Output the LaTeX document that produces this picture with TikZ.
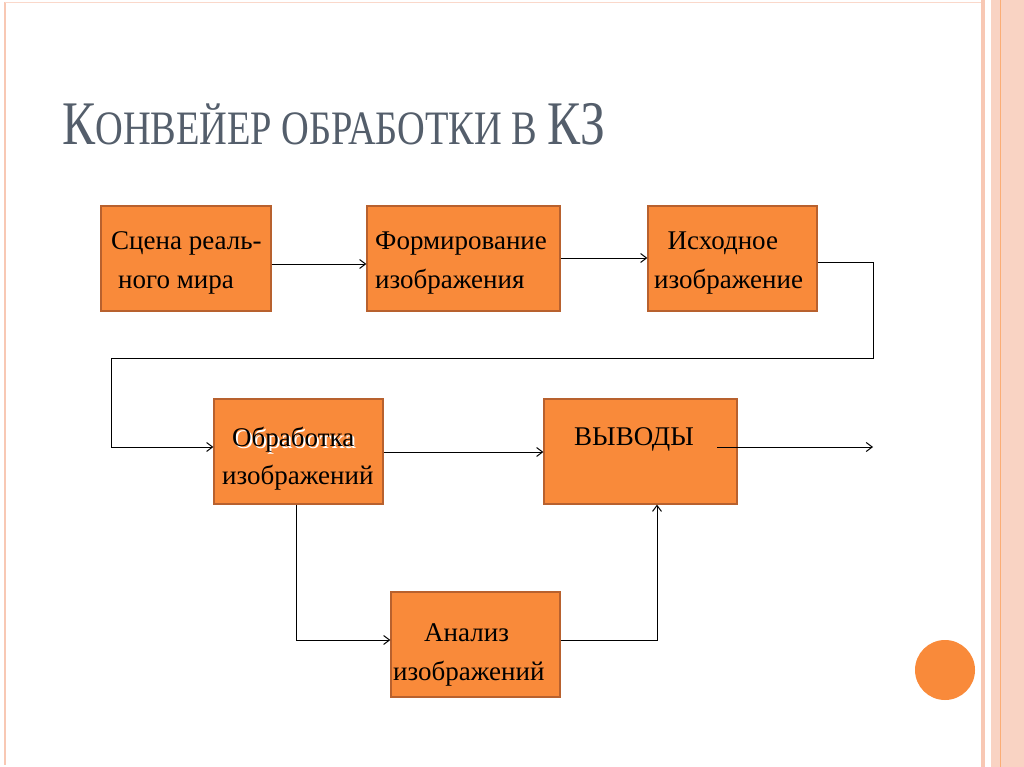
\documentclass[tikz,border=0pt]{standalone}
\usepackage{fontspec}
\setmainfont{Liberation Serif}
\usetikzlibrary{arrows.meta}
\definecolor{boxfill}{HTML}{F98A3A}
\definecolor{boxline}{HTML}{B8612E}
\definecolor{titlec}{HTML}{545E6B}
\definecolor{pinkb}{HTML}{F8C8B4}
\begin{document}
\begin{tikzpicture}[x=1pt,y=-1pt,
  blk/.style={draw=boxline,line width=1.2pt,fill=boxfill,inner sep=0pt},
  txt/.style={font=\fontsize{27}{38}\selectfont,inner sep=0pt},
  conn/.style={-{Straight Barb[length=6pt,width=9pt]},line width=1pt}]
\useasboundingbox (0,0) rectangle (1024,767);
\fill[white] (0,0) rectangle (1024,767);
% frame
\draw[pinkb,line width=2pt] (5,2) -- (5,765);
\draw[pinkb!70,line width=0.8pt] (5,2) -- (983,2);
\fill[pinkb] (981,0) rectangle (985,767);
\fill[pinkb!80] (991,0) rectangle (1024,767);
\draw[boxfill!70,line width=0.8pt] (1000,0) -- (1000,767);
% title
\node[anchor=base west,text=titlec,inner sep=0pt] (title) at (62,145)
 {\scalebox{0.8}[1]{\fontsize{62}{62}\selectfont К\fontsize{48}{48}\selectfont ОНВЕЙЕР ОБРАБОТКИ В \fontsize{62}{62}\selectfont КЗ}};
% boxes
\node[blk,minimum width=170pt,minimum height=105pt] (a) at (186,258.5) {};
\node[txt,anchor=base west] (at1) at (111,249) {Сцена реаль-};
\node[txt,anchor=base west] (at2) at (118,288) {ного мира};
\node[blk,minimum width=193pt,minimum height=105pt] (b) at (463.5,258.5) {};
\node[txt,anchor=base west] (bt1) at (375,249) {Формирование};
\node[txt,anchor=base west] (bt2) at (375,288) {изображения};
\node[blk,minimum width=169pt,minimum height=105pt] (c) at (732.5,258.5) {};
\node[txt,anchor=base west] (ct1) at (654,249) {\ \ Исходное};
\node[txt,anchor=base west] (ct2) at (654,288) {изображение};
\node[blk,minimum width=169pt,minimum height=105pt] (d) at (298.5,451.5) {};
\node[txt,anchor=base west,text=white] (dsh) at (234,448) {Обработка};
\node[txt,anchor=base west] (dt1) at (232,446) {Обработка};
\node[txt,anchor=base west] (dt2) at (222,484) {изображений};
\node[blk,minimum width=193pt,minimum height=105pt] (e) at (640.5,451.5) {};
\node[txt,anchor=base west] (et) at (574,445) {ВЫВОДЫ};
\node[blk,minimum width=169pt,minimum height=105pt] (f) at (475.5,644.5) {};
\node[txt,anchor=base west] (ft1) at (424,641) {Анализ};
\node[txt,anchor=base west] (ft2) at (393,680) {изображений};
\fill[boxfill] (945,670) circle (30) node (circ) {};
% connectors
\coordinate (c1) at (873,262);
\coordinate (c2) at (873,358);
\coordinate (c3) at (111,358);
\coordinate (c4) at (111,447);
\coordinate (eo) at (717,447);
\coordinate (eend) at (873,447);
\coordinate (d1) at (296,640);
\coordinate (f1) at (657,640);
\draw[conn] (a.east |- 0,264) -- (b.west |- 0,264);
\draw[conn] (b.east |- 0,258) -- (c.west |- 0,258);
\draw[conn] (c.east |- c1) -- (c1) -- (c2) -- (c3) -- (c4) -- (d.west |- c4);
\draw[conn] (d.east |- 0,452) -- (e.west |- 0,452);
\draw[conn] (eo) -- (eend);
\draw[conn] (d.south -| d1) -- (d1) -- (f.west |- d1);
\draw[conn] (f.east |- f1) -- (f1) -- (e.south -| f1);
\end{tikzpicture}
\end{document}
